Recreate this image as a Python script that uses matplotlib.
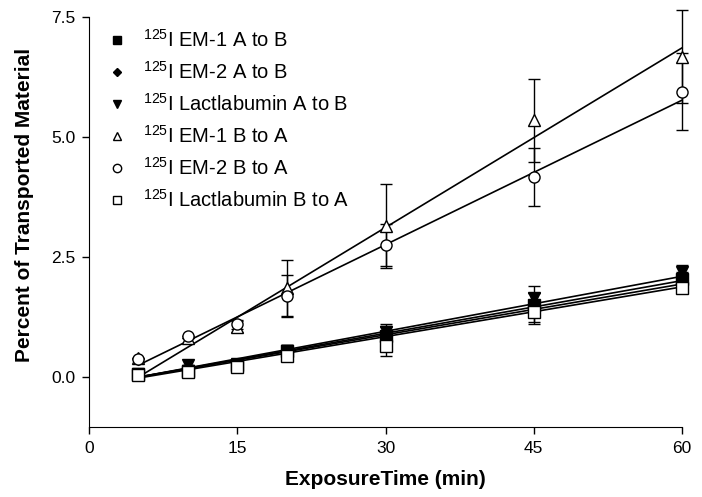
import numpy as np
import matplotlib
matplotlib.use("Agg")
import matplotlib.pyplot as plt

plt.rcParams["font.family"] = ["Liberation Sans", "DejaVu Sans"]
plt.rcParams["mathtext.fontset"] = "custom"
plt.rcParams["mathtext.rm"] = "Liberation Sans"
plt.rcParams["mathtext.default"] = "regular"

# tiempos de exposicion (min)
tiempo = [5, 10, 15, 20, 30, 45, 60]

# series
em1_ab = [0.07, 0.13, 0.25, 0.55, 0.85, 1.50, 2.05]
em2_ab = [0.07, 0.15, 0.25, 0.50, 0.88, 1.45, 2.00]
lac_ab = [0.07, 0.25, 0.28, 0.55, 0.95, 1.65, 2.18]
em1_ba = [0.40, 0.82, 1.05, 1.85, 3.15, 5.35, 6.68]
em2_ba = [0.38, 0.85, 1.10, 1.70, 2.75, 4.17, 5.95]
lac_ba = [0.05, 0.10, 0.22, 0.45, 0.65, 1.35, 1.85]

# barras de error
err_em1_ab = [0.0, 0.0, 0.05, 0.12, 0.20, 0.25, 0.15]
err_em2_ab = [0.0, 0.0, 0.05, 0.10, 0.18, 0.30, 0.15]
err_lac_ab = [0.0, 0.0, 0.05, 0.12, 0.15, 0.25, 0.15]
err_em1_ba = [0.0, 0.0, 0.12, 0.60, 0.87, 0.87, 0.96]
err_em2_ba = [0.0, 0.0, 0.10, 0.42, 0.43, 0.60, 0.80]
err_lac_ba = [0.0, 0.0, 0.05, 0.12, 0.22, 0.25, 0.10]

# rectas de regresion: valor en t=5 y t=60
recta_t = [5, 60]
recta_em1_ab = [0.0, 2.01]
recta_em2_ab = [0.0, 1.94]
recta_lac_ab = [0.0, 2.10]
recta_em1_ba = [0.0, 6.86]
recta_em2_ba = [0.25, 5.77]
recta_lac_ba = [-0.02, 1.88]

etiquetas = [r"$^{125}$I EM-1 A to B",
             r"$^{125}$I EM-2 A to B",
             r"$^{125}$I Lactlabumin A to B",
             r"$^{125}$I EM-1 B to A",
             r"$^{125}$I EM-2 B to A",
             r"$^{125}$I Lactlabumin B to A"]

series = [
    (em1_ab, err_em1_ab, recta_em1_ab, "s", "black", 8),
    (em2_ab, err_em2_ab, recta_em2_ab, "D", "black", 6),
    (lac_ab, err_lac_ab, recta_lac_ab, "v", "black", 8),
    (em1_ba, err_em1_ba, recta_em1_ba, "^", "white", 8),
    (em2_ba, err_em2_ba, recta_em2_ba, "o", "white", 8),
    (lac_ba, err_lac_ba, recta_lac_ba, "s", "white", 8),
]

fig = plt.figure(figsize=(7.02, 4.97), dpi=100)
ax = fig.add_axes([0.1268, 0.1408, 0.8447, 0.844])

for valores, err, recta, marca, relleno, tam in series:
    ax.plot(recta_t, recta, color="black", lw=1.2, zorder=2, clip_on=False)

handles = []
for (valores, err, recta, marca, relleno, tam), etiqueta in zip(series, etiquetas):
    ax.errorbar(tiempo, valores, yerr=err, fmt="none", ecolor="black",
                elinewidth=1.0, capsize=4, capthick=1.0, zorder=3, clip_on=False)
    h, = ax.plot(tiempo, valores, linestyle="none", marker=marca, markersize=tam,
                 markerfacecolor=relleno, markeredgecolor="black", markeredgewidth=1.0,
                 zorder=4, clip_on=False, label=etiqueta)
    handles.append(h)

ax.set_xlim(0, 60)
ax.set_ylim(-1.04, 7.7)
ax.set_xticks([0, 15, 30, 45, 60])
ax.set_yticks([0.0, 2.5, 5.0, 7.5])
ax.set_yticklabels(["0.0", "2.5", "5.0", "7.5"])
ax.spines["top"].set_visible(False)
ax.spines["right"].set_visible(False)
ax.spines["left"].set_bounds(-1.04, 7.5)
ax.tick_params(direction="out", length=5, width=1, labelsize=12.5, pad=5)

ax.set_xlabel("ExposureTime (min)", fontsize=15, fontweight="bold", labelpad=10)
ax.set_ylabel("Percent of Transported Material", fontsize=15, fontweight="bold", labelpad=10)
ax.yaxis.set_label_coords(-0.093, 0.53)

leg = ax.legend(handles=handles, loc="upper left", bbox_to_anchor=(0.01, 0.977),
                frameon=False, fontsize=14.5, markerscale=0.75, handlelength=1.0,
                handletextpad=0.8, labelspacing=0.5, borderaxespad=0.2)

plt.savefig("out.png", dpi=100)
